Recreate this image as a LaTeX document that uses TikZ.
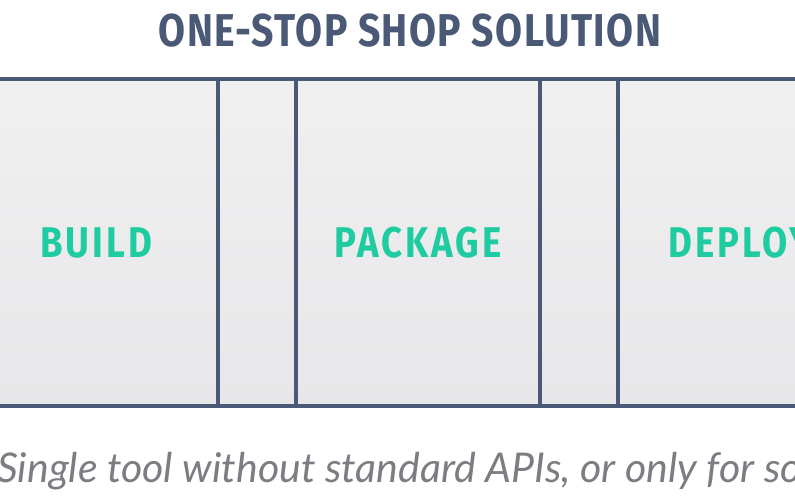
\documentclass[tikz,border=0pt]{standalone}
\usepackage{fontspec}
\usepackage{xcolor}
\usepackage{tikz}
\usetikzlibrary{positioning}
\newfontfamily\headfont[FakeStretch=0.85, LetterSpace=3]{Fira Sans}
\newfontfamily\stagefont[FakeStretch=0.85, LetterSpace=7]{Fira Sans}
\newfontfamily\notefont{Lato}
\definecolor{myslate}{RGB}{74,89,117}
\definecolor{myteal}{RGB}{31,203,160}
\definecolor{mygray}{RGB}{124,124,130}
\definecolor{hdrtop}{RGB}{240,240,241}
\definecolor{hdrbot}{RGB}{231,231,233}
\tikzset{
  stage/.style={rectangle, draw=myslate, top color=hdrtop, bottom color=hdrbot,
    minimum width=244pt, minimum height=327pt, inner sep=0pt, outer sep=0pt,
    line width=4pt, text=myteal,
    font=\stagefont\bfseries\fontsize{43}{43}\selectfont},
  gapbox/.style={stage, minimum width=78pt},
  title/.style={text=myslate, inner sep=0pt,
    font=\headfont\bfseries\fontsize{46}{46}\selectfont},
  note/.style={text=mygray, inner sep=0pt,
    font=\notefont\itshape\fontsize{41}{41}\selectfont}
}

\begin{document}
\begin{tikzpicture}[x=1pt, y=-1pt]
  \useasboundingbox (0,0) rectangle (795,497);
  \clip (0,0) rectangle (795,497);
  \fill[white] (0,0) rectangle (795,497);

  \node[title, anchor=base] (heading) at (410,47) {ONE-STOP SHOP SOLUTION};

  \node[stage] (build) at (96,242.5) {BUILD};
  \node[gapbox, right=0pt of build] (gapa) {};
  \node[stage, right=0pt of gapa] (package) {PACKAGE};
  \node[gapbox, right=0pt of package] (gapb) {};
  \node[stage, right=0pt of gapb] (deploy) {DEPLOY};

  \node[note, anchor=base west] (caption) at (-3,482) {Single tool without standard APIs, or only for some};
\end{tikzpicture}
\end{document}
